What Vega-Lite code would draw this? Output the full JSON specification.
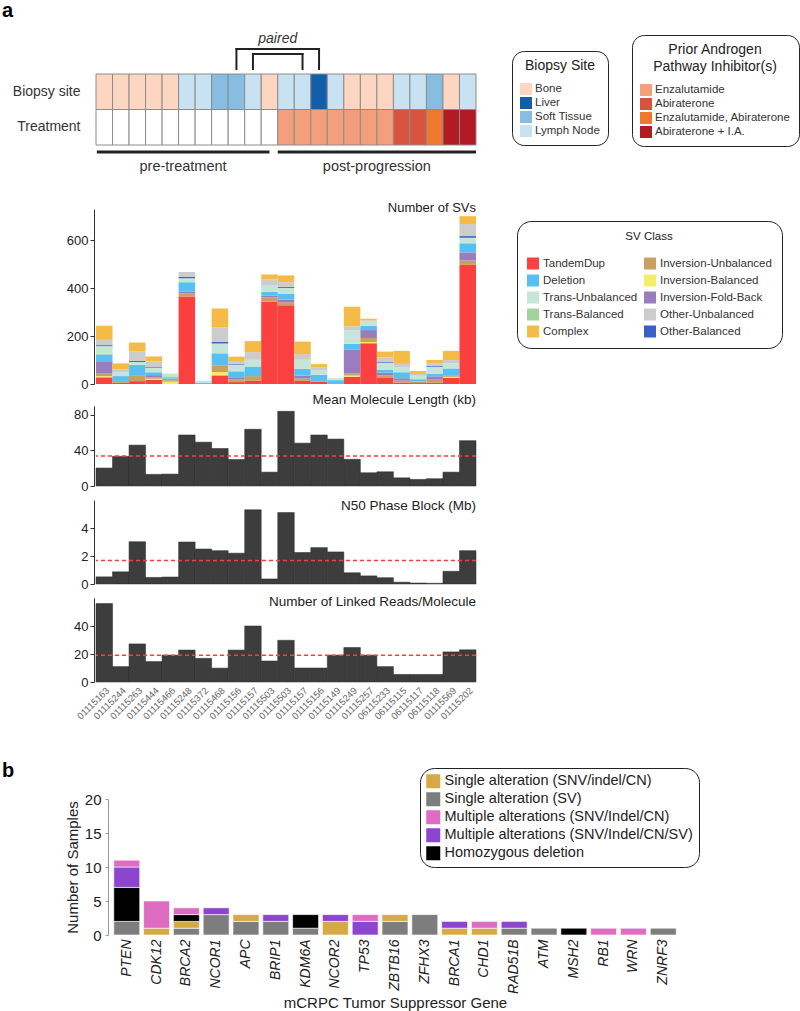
{
"$schema":"https://vega.github.io/schema/vega-lite/v6.json",
"padding":{"left":2,"top":0,"right":0,"bottom":0},
"background":"white",
"config":{"font":"Liberation Sans","view":{"stroke":null},"axis":{"grid":false},"legend":{"symbolStrokeWidth":0,"symbolOpacity":1}},
"resolve":{"scale":{"color":"independent","fill":"independent","x":"independent","y":"independent"},"legend":{"color":"independent","fill":"independent"}},
"datasets":{
"meta":[
{"s":"01115163","row":"Biopsy site","v":"Bone"},{"s":"01115163","row":"Treatment","v":"None"},
{"s":"01115244","row":"Biopsy site","v":"Bone"},{"s":"01115244","row":"Treatment","v":"None"},
{"s":"01115263","row":"Biopsy site","v":"Bone"},{"s":"01115263","row":"Treatment","v":"None"},
{"s":"01115444","row":"Biopsy site","v":"Bone"},{"s":"01115444","row":"Treatment","v":"None"},
{"s":"01115466","row":"Biopsy site","v":"Bone"},{"s":"01115466","row":"Treatment","v":"None"},
{"s":"01115248","row":"Biopsy site","v":"Lymph Node"},{"s":"01115248","row":"Treatment","v":"None"},
{"s":"01115372","row":"Biopsy site","v":"Lymph Node"},{"s":"01115372","row":"Treatment","v":"None"},
{"s":"01115468","row":"Biopsy site","v":"Soft Tissue"},{"s":"01115468","row":"Treatment","v":"None"},
{"s":"01115156","row":"Biopsy site","v":"Soft Tissue"},{"s":"01115156","row":"Treatment","v":"None"},
{"s":"01115157","row":"Biopsy site","v":"Lymph Node"},{"s":"01115157","row":"Treatment","v":"None"},
{"s":"01115503","row":"Biopsy site","v":"Bone"},{"s":"01115503","row":"Treatment","v":"None"},
{"s":"01115503-2","row":"Biopsy site","v":"Lymph Node"},{"s":"01115503-2","row":"Treatment","v":"Enzalutamide"},
{"s":"01115157-2","row":"Biopsy site","v":"Lymph Node"},{"s":"01115157-2","row":"Treatment","v":"Enzalutamide"},
{"s":"01115156-2","row":"Biopsy site","v":"Liver"},{"s":"01115156-2","row":"Treatment","v":"Enzalutamide"},
{"s":"01115149","row":"Biopsy site","v":"Lymph Node"},{"s":"01115149","row":"Treatment","v":"Enzalutamide"},
{"s":"01115249","row":"Biopsy site","v":"Bone"},{"s":"01115249","row":"Treatment","v":"Enzalutamide"},
{"s":"01115257","row":"Biopsy site","v":"Bone"},{"s":"01115257","row":"Treatment","v":"Enzalutamide"},
{"s":"06115233","row":"Biopsy site","v":"Bone"},{"s":"06115233","row":"Treatment","v":"Enzalutamide"},
{"s":"06115115","row":"Biopsy site","v":"Lymph Node"},{"s":"06115115","row":"Treatment","v":"Abiraterone"},
{"s":"06115117","row":"Biopsy site","v":"Lymph Node"},{"s":"06115117","row":"Treatment","v":"Abiraterone"},
{"s":"06115118","row":"Biopsy site","v":"Soft Tissue"},{"s":"06115118","row":"Treatment","v":"Enzalutamide, Abiraterone"},
{"s":"01115569","row":"Biopsy site","v":"Bone"},{"s":"01115569","row":"Treatment","v":"Abiraterone + I.A."},
{"s":"01115202","row":"Biopsy site","v":"Lymph Node"},{"s":"01115202","row":"Treatment","v":"Abiraterone + I.A."}
],
"pairs":[{"a":"01115156","b":"01115156-2","kind":"outer"},{"a":"01115157","b":"01115157-2","kind":"inner"}],
"phases":[{"label":"pre-treatment","from":"01115163","to":"01115503","mid":"01115248"},{"label":"post-progression","from":"01115503-2","to":"01115202","mid":"01115257"}],
"notes":[{"label":"paired","at":"01115503-2"}],
"svclass":[{"c":"TandemDup","k":1},{"c":"Inversion-Balanced","k":2},{"c":"Inversion-Unbalanced","k":3},{"c":"Inversion-Fold-Back","k":4},{"c":"Deletion","k":5},{"c":"Trans-Balanced","k":6},{"c":"Trans-Unbalanced","k":7},{"c":"Other-Balanced","k":8},{"c":"Other-Unbalanced","k":9},{"c":"Complex","k":10}],
"gcat":[{"cat":"Single alteration (SV)","k":1},{"cat":"Single alteration (SNV/indel/CN)","k":2},{"cat":"Homozygous deletion","k":3},{"cat":"Multiple alterations (SNV/Indel/CN/SV)","k":4},{"cat":"Multiple alterations (SNV/Indel/CN)","k":5}],
"sv":[
{"s":"01115163","c":"TandemDup","n":28},{"s":"01115163","c":"Inversion-Balanced","n":5},{"s":"01115163","c":"Inversion-Unbalanced","n":10},{"s":"01115163","c":"Inversion-Fold-Back","n":52},{"s":"01115163","c":"Deletion","n":28},{"s":"01115163","c":"Trans-Balanced","n":3},{"s":"01115163","c":"Trans-Unbalanced","n":32},{"s":"01115163","c":"Other-Balanced","n":4},{"s":"01115163","c":"Other-Unbalanced","n":22},{"s":"01115163","c":"Complex","n":59},
{"s":"01115244","c":"TandemDup","n":5},{"s":"01115244","c":"Inversion-Unbalanced","n":8},{"s":"01115244","c":"Deletion","n":20},{"s":"01115244","c":"Trans-Unbalanced","n":15},{"s":"01115244","c":"Other-Unbalanced","n":14},{"s":"01115244","c":"Complex","n":24},
{"s":"01115263","c":"TandemDup","n":12},{"s":"01115263","c":"Inversion-Unbalanced","n":22},{"s":"01115263","c":"Deletion","n":46},{"s":"01115263","c":"Trans-Unbalanced","n":12},{"s":"01115263","c":"Other-Balanced","n":4},{"s":"01115263","c":"Other-Unbalanced","n":40},{"s":"01115263","c":"Complex","n":37},
{"s":"01115444","c":"TandemDup","n":18},{"s":"01115444","c":"Inversion-Balanced","n":4},{"s":"01115444","c":"Inversion-Unbalanced","n":5},{"s":"01115444","c":"Inversion-Fold-Back","n":10},{"s":"01115444","c":"Deletion","n":12},{"s":"01115444","c":"Trans-Unbalanced","n":18},{"s":"01115444","c":"Other-Balanced","n":3},{"s":"01115444","c":"Other-Unbalanced","n":25},{"s":"01115444","c":"Complex","n":20},
{"s":"01115466","c":"Inversion-Balanced","n":10},{"s":"01115466","c":"Inversion-Unbalanced","n":6},{"s":"01115466","c":"Deletion","n":8},{"s":"01115466","c":"Trans-Balanced","n":8},{"s":"01115466","c":"Trans-Unbalanced","n":12},
{"s":"01115248","c":"TandemDup","n":365},{"s":"01115248","c":"Inversion-Unbalanced","n":14},{"s":"01115248","c":"Inversion-Fold-Back","n":7},{"s":"01115248","c":"Deletion","n":38},{"s":"01115248","c":"Trans-Unbalanced","n":17},{"s":"01115248","c":"Other-Balanced","n":6},{"s":"01115248","c":"Other-Unbalanced","n":20},
{"s":"01115372","c":"Deletion","n":6},{"s":"01115372","c":"Trans-Unbalanced","n":8},
{"s":"01115468","c":"TandemDup","n":36},{"s":"01115468","c":"Inversion-Balanced","n":14},{"s":"01115468","c":"Inversion-Unbalanced","n":28},{"s":"01115468","c":"Deletion","n":50},{"s":"01115468","c":"Trans-Unbalanced","n":41},{"s":"01115468","c":"Other-Balanced","n":7},{"s":"01115468","c":"Other-Unbalanced","n":60},{"s":"01115468","c":"Complex","n":79},
{"s":"01115156","c":"TandemDup","n":8},{"s":"01115156","c":"Inversion-Unbalanced","n":12},{"s":"01115156","c":"Inversion-Fold-Back","n":8},{"s":"01115156","c":"Deletion","n":25},{"s":"01115156","c":"Trans-Unbalanced","n":28},{"s":"01115156","c":"Other-Balanced","n":3},{"s":"01115156","c":"Other-Unbalanced","n":12},{"s":"01115156","c":"Complex","n":18},
{"s":"01115157","c":"TandemDup","n":13},{"s":"01115157","c":"Inversion-Unbalanced","n":20},{"s":"01115157","c":"Deletion","n":40},{"s":"01115157","c":"Trans-Unbalanced","n":28},{"s":"01115157","c":"Other-Unbalanced","n":32},{"s":"01115157","c":"Complex","n":46},
{"s":"01115503","c":"TandemDup","n":343},{"s":"01115503","c":"Inversion-Unbalanced","n":18},{"s":"01115503","c":"Inversion-Fold-Back","n":7},{"s":"01115503","c":"Deletion","n":17},{"s":"01115503","c":"Trans-Unbalanced","n":28},{"s":"01115503","c":"Other-Unbalanced","n":23},{"s":"01115503","c":"Complex","n":21},
{"s":"01115503-2","c":"TandemDup","n":328},{"s":"01115503-2","c":"Inversion-Unbalanced","n":13},{"s":"01115503-2","c":"Inversion-Fold-Back","n":11},{"s":"01115503-2","c":"Deletion","n":24},{"s":"01115503-2","c":"Trans-Unbalanced","n":25},{"s":"01115503-2","c":"Other-Balanced","n":4},{"s":"01115503-2","c":"Other-Unbalanced","n":20},{"s":"01115503-2","c":"Complex","n":28},
{"s":"01115157-2","c":"TandemDup","n":13},{"s":"01115157-2","c":"Inversion-Unbalanced","n":10},{"s":"01115157-2","c":"Inversion-Fold-Back","n":12},{"s":"01115157-2","c":"Deletion","n":28},{"s":"01115157-2","c":"Trans-Unbalanced","n":38},{"s":"01115157-2","c":"Other-Unbalanced","n":24},{"s":"01115157-2","c":"Complex","n":52},
{"s":"01115156-2","c":"TandemDup","n":10},{"s":"01115156-2","c":"Deletion","n":28},{"s":"01115156-2","c":"Trans-Unbalanced","n":18},{"s":"01115156-2","c":"Other-Unbalanced","n":14},{"s":"01115156-2","c":"Complex","n":13},
{"s":"01115149","c":"Inversion-Unbalanced","n":4},{"s":"01115149","c":"Deletion","n":12},{"s":"01115149","c":"Trans-Unbalanced","n":8},
{"s":"01115249","c":"TandemDup","n":30},{"s":"01115249","c":"Inversion-Balanced","n":5},{"s":"01115249","c":"Inversion-Unbalanced","n":9},{"s":"01115249","c":"Inversion-Fold-Back","n":99},{"s":"01115249","c":"Deletion","n":25},{"s":"01115249","c":"Trans-Unbalanced","n":56},{"s":"01115249","c":"Other-Unbalanced","n":17},{"s":"01115249","c":"Complex","n":81},
{"s":"01115257","c":"TandemDup","n":170},{"s":"01115257","c":"Inversion-Balanced","n":5},{"s":"01115257","c":"Inversion-Unbalanced","n":17},{"s":"01115257","c":"Inversion-Fold-Back","n":33},{"s":"01115257","c":"Deletion","n":18},{"s":"01115257","c":"Trans-Unbalanced","n":18},{"s":"01115257","c":"Other-Unbalanced","n":5},{"s":"01115257","c":"Complex","n":6},
{"s":"06115233","c":"TandemDup","n":25},{"s":"06115233","c":"Inversion-Unbalanced","n":10},{"s":"06115233","c":"Inversion-Fold-Back","n":12},{"s":"06115233","c":"Deletion","n":12},{"s":"06115233","c":"Trans-Unbalanced","n":30},{"s":"06115233","c":"Other-Balanced","n":4},{"s":"06115233","c":"Other-Unbalanced","n":18},{"s":"06115233","c":"Complex","n":24},
{"s":"06115115","c":"TandemDup","n":6},{"s":"06115115","c":"Inversion-Unbalanced","n":8},{"s":"06115115","c":"Inversion-Fold-Back","n":10},{"s":"06115115","c":"Deletion","n":25},{"s":"06115115","c":"Trans-Unbalanced","n":20},{"s":"06115115","c":"Other-Unbalanced","n":15},{"s":"06115115","c":"Complex","n":54},
{"s":"06115117","c":"TandemDup","n":4},{"s":"06115117","c":"Inversion-Unbalanced","n":6},{"s":"06115117","c":"Deletion","n":10},{"s":"06115117","c":"Trans-Unbalanced","n":14},{"s":"06115117","c":"Other-Unbalanced","n":8},{"s":"06115117","c":"Complex","n":12},
{"s":"06115118","c":"TandemDup","n":6},{"s":"06115118","c":"Inversion-Unbalanced","n":12},{"s":"06115118","c":"Inversion-Fold-Back","n":14},{"s":"06115118","c":"Deletion","n":10},{"s":"06115118","c":"Trans-Unbalanced","n":30},{"s":"06115118","c":"Other-Balanced","n":3},{"s":"06115118","c":"Other-Unbalanced","n":12},{"s":"06115118","c":"Complex","n":13},
{"s":"01115569","c":"TandemDup","n":25},{"s":"01115569","c":"Inversion-Balanced","n":5},{"s":"01115569","c":"Inversion-Unbalanced","n":4},{"s":"01115569","c":"Deletion","n":31},{"s":"01115569","c":"Trans-Unbalanced","n":21},{"s":"01115569","c":"Other-Unbalanced","n":14},{"s":"01115569","c":"Complex","n":38},
{"s":"01115202","c":"TandemDup","n":497},{"s":"01115202","c":"Inversion-Unbalanced","n":18},{"s":"01115202","c":"Inversion-Fold-Back","n":34},{"s":"01115202","c":"Deletion","n":38},{"s":"01115202","c":"Trans-Unbalanced","n":23},{"s":"01115202","c":"Other-Balanced","n":7},{"s":"01115202","c":"Other-Unbalanced","n":50},{"s":"01115202","c":"Complex","n":33}
],
"metrics":[
{"s":"01115163","mml":20.2,"n50":0.51,"lr":56},
{"s":"01115244","mml":33.3,"n50":0.87,"lr":11},
{"s":"01115263","mml":46,"n50":3.02,"lr":27.2},
{"s":"01115444","mml":13.1,"n50":0.47,"lr":14.6},
{"s":"01115466","mml":13.4,"n50":0.5,"lr":19.2},
{"s":"01115248","mml":57.4,"n50":3.0,"lr":22.8},
{"s":"01115372","mml":49.3,"n50":2.5,"lr":16.9},
{"s":"01115468","mml":42.2,"n50":2.38,"lr":9.9},
{"s":"01115156","mml":29.8,"n50":2.2,"lr":22.8},
{"s":"01115157","mml":63.8,"n50":5.3,"lr":40},
{"s":"01115503","mml":15.6,"n50":0.36,"lr":15},
{"s":"01115503-2","mml":84,"n50":5.1,"lr":29.8},
{"s":"01115157-2","mml":48.2,"n50":2.25,"lr":10},
{"s":"01115156-2","mml":57.4,"n50":2.6,"lr":10},
{"s":"01115149","mml":52.8,"n50":2.29,"lr":19.2},
{"s":"01115249","mml":30,"n50":0.8,"lr":24.6},
{"s":"01115257","mml":14.9,"n50":0.58,"lr":19.2},
{"s":"06115233","mml":16,"n50":0.45,"lr":11},
{"s":"06115115","mml":9.2,"n50":0.13,"lr":5.4},
{"s":"06115117","mml":7.4,"n50":0.07,"lr":5.4},
{"s":"06115118","mml":8.2,"n50":0.05,"lr":5.4},
{"s":"01115569","mml":15.6,"n50":0.91,"lr":21.5},
{"s":"01115202","mml":51,"n50":2.38,"lr":23}
],
"genes":[
{"g":"PTEN","cat":"Single alteration (SV)","n":2},{"g":"PTEN","cat":"Homozygous deletion","n":5},{"g":"PTEN","cat":"Multiple alterations (SNV/Indel/CN/SV)","n":3},{"g":"PTEN","cat":"Multiple alterations (SNV/Indel/CN)","n":1},
{"g":"CDK12","cat":"Single alteration (SNV/indel/CN)","n":1},{"g":"CDK12","cat":"Multiple alterations (SNV/Indel/CN)","n":4},
{"g":"BRCA2","cat":"Single alteration (SV)","n":1},{"g":"BRCA2","cat":"Single alteration (SNV/indel/CN)","n":1},{"g":"BRCA2","cat":"Homozygous deletion","n":1},{"g":"BRCA2","cat":"Multiple alterations (SNV/Indel/CN)","n":1},
{"g":"NCOR1","cat":"Single alteration (SV)","n":3},{"g":"NCOR1","cat":"Multiple alterations (SNV/Indel/CN/SV)","n":1},
{"g":"APC","cat":"Single alteration (SV)","n":2},{"g":"APC","cat":"Single alteration (SNV/indel/CN)","n":1},
{"g":"BRIP1","cat":"Single alteration (SV)","n":2},{"g":"BRIP1","cat":"Multiple alterations (SNV/Indel/CN/SV)","n":1},
{"g":"KDM6A","cat":"Single alteration (SV)","n":1},{"g":"KDM6A","cat":"Homozygous deletion","n":2},
{"g":"NCOR2","cat":"Single alteration (SNV/indel/CN)","n":2},{"g":"NCOR2","cat":"Multiple alterations (SNV/Indel/CN/SV)","n":1},
{"g":"TP53","cat":"Multiple alterations (SNV/Indel/CN/SV)","n":2},{"g":"TP53","cat":"Multiple alterations (SNV/Indel/CN)","n":1},
{"g":"ZBTB16","cat":"Single alteration (SV)","n":2},{"g":"ZBTB16","cat":"Single alteration (SNV/indel/CN)","n":1},
{"g":"ZFHX3","cat":"Single alteration (SV)","n":3},
{"g":"BRCA1","cat":"Single alteration (SNV/indel/CN)","n":1},{"g":"BRCA1","cat":"Multiple alterations (SNV/Indel/CN/SV)","n":1},
{"g":"CHD1","cat":"Single alteration (SNV/indel/CN)","n":1},{"g":"CHD1","cat":"Multiple alterations (SNV/Indel/CN)","n":1},
{"g":"RAD51B","cat":"Single alteration (SV)","n":1},{"g":"RAD51B","cat":"Multiple alterations (SNV/Indel/CN/SV)","n":1},
{"g":"ATM","cat":"Single alteration (SV)","n":1},
{"g":"MSH2","cat":"Homozygous deletion","n":1},
{"g":"RB1","cat":"Multiple alterations (SNV/Indel/CN)","n":1},
{"g":"WRN","cat":"Multiple alterations (SNV/Indel/CN)","n":1},
{"g":"ZNRF3","cat":"Single alteration (SV)","n":1}
]
},
"spacing":14,
"bounds":"flush",
"vconcat":[
{
"width":380,"height":161,
"title":{"text":"a","anchor":"start","frame":"group","dx":-94,"offset":1,"fontSize":20,"fontWeight":"bold","color":"#000","baseline":"middle"},
"layer":[
{"data":{"name":"meta"},"transform":[{"filter":"datum.row === 'Biopsy site'"}],
"mark":{"type":"rect","stroke":"#8c8c8c","strokeWidth":1},
"encoding":{
"x":{"field":"s","type":"nominal","scale":{"domain":["01115163","01115244","01115263","01115444","01115466","01115248","01115372","01115468","01115156","01115157","01115503","01115503-2","01115157-2","01115156-2","01115149","01115249","01115257","06115233","06115115","06115117","06115118","01115569","01115202"],"paddingInner":0,"paddingOuter":0},"axis":null},
"y":{"field":"row","type":"nominal","scale":{"domain":["Biopsy site","Treatment"],"paddingInner":0,"paddingOuter":0,"range":[40,111]},"axis":{"title":null,"domain":false,"ticks":false,"labelPadding":16,"labelFontSize":14,"labelColor":"#333"}},
"color":{"field":"v","type":"nominal","scale":{"domain":["Bone","Liver","Soft Tissue","Lymph Node"],"range":["#fdd6c1","#115eab","#87bde0","#c9e2f2"]},
"legend":{"orient":"none","legendX":416,"legendY":17,"title":"Biopsy Site","titleFontSize":14,"titleFontWeight":"normal","titleColor":"#222","titleAnchor":"middle","titlePadding":10,"labelFontSize":11.5,"labelColor":"#333","labelOffset":3,"symbolType":"square","symbolSize":144,"rowPadding":2,"padding":8,"strokeColor":"#222","cornerRadius":12}}
}},
{"data":{"name":"meta"},"transform":[{"filter":"datum.row === 'Treatment'"}],
"mark":{"type":"rect","stroke":"#8c8c8c","strokeWidth":1},
"encoding":{
"x":{"field":"s","type":"nominal","scale":{"domain":["01115163","01115244","01115263","01115444","01115466","01115248","01115372","01115468","01115156","01115157","01115503","01115503-2","01115157-2","01115156-2","01115149","01115249","01115257","06115233","06115115","06115117","06115118","01115569","01115202"],"paddingInner":0,"paddingOuter":0},"axis":null},
"y":{"field":"row","type":"nominal","axis":{"title":null,"domain":false,"ticks":false,"labelPadding":16,"labelFontSize":14,"labelColor":"#333"}},
"fill":{"field":"v","type":"nominal","scale":{"domain":["None","Enzalutamide","Abiraterone","Enzalutamide, Abiraterone","Abiraterone + I.A."],"range":["#ffffff","#f39f7b","#d8543f","#ef782f","#b21a24"]},
"legend":{"orient":"none","legendX":536,"legendY":1,"values":["Enzalutamide","Abiraterone","Enzalutamide, Abiraterone","Abiraterone + I.A."],"title":["Prior Androgen","Pathway Inhibitor(s)"],"titleLineHeight":17,"titleFontSize":14,"titleFontWeight":"normal","titleColor":"#222","titleAnchor":"middle","titlePadding":10,"labelFontSize":11.5,"labelColor":"#333","labelOffset":3,"labelLimit":300,"symbolType":"square","symbolSize":144,"rowPadding":2,"padding":8,"strokeColor":"#222","cornerRadius":12}}
}},
{"data":{"name":"pairs"},"transform":[{"filter":"datum.kind === 'outer'"}],
"mark":{"type":"rule","stroke":"#222","strokeWidth":2,"strokeCap":"square"},
"encoding":{
"x":{"field":"a","type":"nominal","bandPosition":0.5,"scale":{"domain":["01115163","01115244","01115263","01115444","01115466","01115248","01115372","01115468","01115156","01115157","01115503","01115503-2","01115157-2","01115156-2","01115149","01115249","01115257","06115233","06115115","06115117","06115118","01115569","01115202"],"paddingInner":0,"paddingOuter":0},"axis":null},
"x2":{"field":"b","bandPosition":0.5},
"y":{"datum":"Biopsy site","type":"nominal","bandPosition":-0.704}
}},
{"data":{"name":"pairs"},"transform":[{"filter":"datum.kind === 'outer'"},{"fold":["a","b"],"as":["end","smp"]}],
"mark":{"type":"rule","stroke":"#222","strokeWidth":2,"strokeCap":"square"},
"encoding":{
"x":{"field":"smp","type":"nominal","bandPosition":0.5,"scale":{"domain":["01115163","01115244","01115263","01115444","01115466","01115248","01115372","01115468","01115156","01115157","01115503","01115503-2","01115157-2","01115156-2","01115149","01115249","01115257","06115233","06115115","06115117","06115118","01115569","01115202"],"paddingInner":0,"paddingOuter":0},"axis":null},
"y":{"datum":"Biopsy site","type":"nominal","bandPosition":-0.704},
"y2":{"datum":"Biopsy site","bandPosition":-0.141}
}},
{"data":{"name":"pairs"},"transform":[{"filter":"datum.kind === 'inner'"}],
"mark":{"type":"rule","stroke":"#222","strokeWidth":2,"strokeCap":"square"},
"encoding":{
"x":{"field":"a","type":"nominal","bandPosition":0.5,"scale":{"domain":["01115163","01115244","01115263","01115444","01115466","01115248","01115372","01115468","01115156","01115157","01115503","01115503-2","01115157-2","01115156-2","01115149","01115249","01115257","06115233","06115115","06115117","06115118","01115569","01115202"],"paddingInner":0,"paddingOuter":0},"axis":null},
"x2":{"field":"b","bandPosition":0.5},
"y":{"datum":"Biopsy site","type":"nominal","bandPosition":-0.563}
}},
{"data":{"name":"pairs"},"transform":[{"filter":"datum.kind === 'inner'"},{"fold":["a","b"],"as":["end","smp"]}],
"mark":{"type":"rule","stroke":"#222","strokeWidth":2,"strokeCap":"square"},
"encoding":{
"x":{"field":"smp","type":"nominal","bandPosition":0.5,"scale":{"domain":["01115163","01115244","01115263","01115444","01115466","01115248","01115372","01115468","01115156","01115157","01115503","01115503-2","01115157-2","01115156-2","01115149","01115249","01115257","06115233","06115115","06115117","06115118","01115569","01115202"],"paddingInner":0,"paddingOuter":0},"axis":null},
"y":{"datum":"Biopsy site","type":"nominal","bandPosition":-0.563},
"y2":{"datum":"Biopsy site","bandPosition":-0.141}
}},
{"data":{"name":"notes"},
"mark":{"type":"text","fontSize":14,"fontStyle":"italic","color":"#333","baseline":"middle","align":"center"},
"encoding":{
"x":{"field":"at","type":"nominal","bandPosition":0,"scale":{"domain":["01115163","01115244","01115263","01115444","01115466","01115248","01115372","01115468","01115156","01115157","01115503","01115503-2","01115157-2","01115156-2","01115149","01115249","01115257","06115233","06115115","06115117","06115118","01115569","01115202"],"paddingInner":0,"paddingOuter":0},"axis":null},
"y":{"datum":"Biopsy site","type":"nominal","bandPosition":-0.986},
"text":{"field":"label","type":"nominal"}
}},
{"data":{"name":"phases"},"transform":[{"filter":"datum.label === 'pre-treatment'"}],
"mark":{"type":"rule","stroke":"#222","strokeWidth":3},
"encoding":{
"x":{"field":"from","type":"nominal","bandPosition":0.05,"scale":{"domain":["01115163","01115244","01115263","01115444","01115466","01115248","01115372","01115468","01115156","01115157","01115503","01115503-2","01115157-2","01115156-2","01115149","01115249","01115257","06115233","06115115","06115117","06115118","01115569","01115202"],"paddingInner":0,"paddingOuter":0},"axis":null},
"x2":{"field":"to","bandPosition":0.5},
"y":{"datum":"Treatment","type":"nominal","bandPosition":1.197}
}},
{"data":{"name":"phases"},"transform":[{"filter":"datum.label === 'post-progression'"}],
"mark":{"type":"rule","stroke":"#222","strokeWidth":3},
"encoding":{
"x":{"field":"from","type":"nominal","bandPosition":0,"scale":{"domain":["01115163","01115244","01115263","01115444","01115466","01115248","01115372","01115468","01115156","01115157","01115503","01115503-2","01115157-2","01115156-2","01115149","01115249","01115257","06115233","06115115","06115117","06115118","01115569","01115202"],"paddingInner":0,"paddingOuter":0},"axis":null},
"x2":{"field":"to","bandPosition":1},
"y":{"datum":"Treatment","type":"nominal","bandPosition":1.197}
}},
{"data":{"name":"phases"},"transform":[{"filter":"datum.label === 'pre-treatment'"}],
"mark":{"type":"text","fontSize":14.5,"color":"#333","baseline":"middle","align":"center"},
"encoding":{
"x":{"field":"mid","type":"nominal","bandPosition":0.27,"scale":{"domain":["01115163","01115244","01115263","01115444","01115466","01115248","01115372","01115468","01115156","01115157","01115503","01115503-2","01115157-2","01115156-2","01115149","01115249","01115257","06115233","06115115","06115117","06115118","01115569","01115202"],"paddingInner":0,"paddingOuter":0},"axis":null},
"y":{"datum":"Treatment","type":"nominal","bandPosition":1.62},
"text":{"field":"label","type":"nominal"}
}},
{"data":{"name":"phases"},"transform":[{"filter":"datum.label === 'post-progression'"}],
"mark":{"type":"text","fontSize":14.5,"color":"#333","baseline":"middle","align":"center"},
"encoding":{
"x":{"field":"mid","type":"nominal","bandPosition":1,"scale":{"domain":["01115163","01115244","01115263","01115444","01115466","01115248","01115372","01115468","01115156","01115157","01115503","01115503-2","01115157-2","01115156-2","01115149","01115249","01115257","06115233","06115115","06115117","06115118","01115569","01115202"],"paddingInner":0,"paddingOuter":0},"axis":null},
"y":{"datum":"Treatment","type":"nominal","bandPosition":1.62},
"text":{"field":"label","type":"nominal"}
}}
]
},
{
"width":380,"height":175,
"data":{"name":"sv"},
"transform":[{"lookup":"c","from":{"data":{"name":"svclass"},"key":"c","fields":["k"]}}],
"title":{"text":"Number of SVs","anchor":"end","frame":"group","fontSize":13,"fontWeight":"normal","color":"#222","baseline":"middle","offset":-12},
"mark":{"type":"bar"},
"encoding":{
"x":{"field":"s","type":"nominal","scale":{"domain":["01115163","01115244","01115263","01115444","01115466","01115248","01115372","01115468","01115156","01115157","01115503","01115503-2","01115157-2","01115156-2","01115149","01115249","01115257","06115233","06115115","06115117","06115118","01115569","01115202"],"paddingInner":0,"paddingOuter":0},"axis":null},
"y":{"field":"n","type":"quantitative","stack":"zero","scale":{"domain":[0,730]},"axis":{"title":null,"values":[0,200,400,600],"offset":2,"domainColor":"#333","tickColor":"#333","tickSize":4,"labelFontSize":13,"labelColor":"#222","labelPadding":2}},
"order":{"field":"k","type":"quantitative","sort":"ascending"},
"color":{"field":"c","type":"nominal",
"scale":{"domain":["TandemDup","Inversion-Balanced","Inversion-Unbalanced","Inversion-Fold-Back","Deletion","Trans-Balanced","Trans-Unbalanced","Other-Balanced","Other-Unbalanced","Complex"],"range":["#fb4040","#f5ec6a","#c9a062","#9a7dbf","#56c0f2","#a4d39a","#c5e5d9","#3a60c8","#cccccc","#f4bb47"]},
"legend":{"orient":"none","legendX":421,"legendY":12,"columns":2,"values":["TandemDup","Deletion","Trans-Unbalanced","Trans-Balanced","Complex","Inversion-Unbalanced","Inversion-Balanced","Inversion-Fold-Back","Other-Unbalanced","Other-Balanced"],"title":"SV Class","titleFontSize":11.5,"titleFontWeight":"normal","titleColor":"#222","titleAnchor":"middle","titlePadding":15,"labelFontSize":11.5,"labelColor":"#333","labelOffset":4,"symbolType":"square","symbolSize":144,"rowPadding":5,"columnPadding":6,"padding":10,"strokeColor":"#222","cornerRadius":14}}
}
},
{
"width":380,"height":88,
"data":{"name":"metrics"},
"title":{"text":"Mean Molecule Length (kb)","anchor":"end","frame":"group","fontSize":13.5,"fontWeight":"normal","color":"#222","baseline":"middle","offset":-15},
"layer":[
{"mark":{"type":"bar","fill":"#3d3d3d","stroke":"#2a2a2a","strokeWidth":0.5},
"encoding":{
"x":{"field":"s","type":"nominal","scale":{"domain":["01115163","01115244","01115263","01115444","01115466","01115248","01115372","01115468","01115156","01115157","01115503","01115503-2","01115157-2","01115156-2","01115149","01115249","01115257","06115233","06115115","06115117","06115118","01115569","01115202"],"paddingInner":0,"paddingOuter":0},"axis":null},
"y":{"field":"mml","type":"quantitative","scale":{"domain":[0,85],"range":[88,8]},"axis":{"title":null,"values":[0,20,40,60,80],"offset":2,"domainColor":"#333","tickColor":"#333","tickSize":4,"labelFontSize":13,"labelColor":"#222","labelPadding":2}}
}},
{"mark":{"type":"rule","stroke":"#ff3b3b","strokeDash":[4,3],"strokeWidth":1.5},
"encoding":{"y":{"aggregate":"mean","field":"mml","type":"quantitative"}}}
]
},
{
"width":380,"height":84,
"data":{"name":"metrics"},
"title":{"text":"N50 Phase Block (Mb)","anchor":"end","frame":"group","fontSize":13.5,"fontWeight":"normal","color":"#222","baseline":"middle","offset":-19},
"layer":[
{"mark":{"type":"bar","fill":"#3d3d3d","stroke":"#2a2a2a","strokeWidth":0.5},
"encoding":{
"x":{"field":"s","type":"nominal","scale":{"domain":["01115163","01115244","01115263","01115444","01115466","01115248","01115372","01115468","01115156","01115157","01115503","01115503-2","01115157-2","01115156-2","01115149","01115249","01115257","06115233","06115115","06115117","06115118","01115569","01115202"],"paddingInner":0,"paddingOuter":0},"axis":null},
"y":{"field":"n50","type":"quantitative","scale":{"domain":[0,5.6]},"axis":{"title":null,"values":[0,2,4],"offset":2,"domainColor":"#333","tickColor":"#333","tickSize":4,"labelFontSize":13,"labelColor":"#222","labelPadding":2}}
}},
{"mark":{"type":"rule","stroke":"#ff3b3b","strokeDash":[4,3],"strokeWidth":1.5},
"encoding":{"y":{"aggregate":"mean","field":"n50","type":"quantitative"}}}
]
},
{
"width":380,"height":84,
"data":{"name":"metrics"},
"title":{"text":"Number of Linked Reads/Molecule","anchor":"end","frame":"group","fontSize":13.5,"fontWeight":"normal","color":"#222","baseline":"middle","offset":-17},
"layer":[
{"mark":{"type":"bar","fill":"#3d3d3d","stroke":"#2a2a2a","strokeWidth":0.5},
"encoding":{
"x":{"field":"s","type":"nominal","scale":{"domain":["01115163","01115244","01115263","01115444","01115466","01115248","01115372","01115468","01115156","01115157","01115503","01115503-2","01115157-2","01115156-2","01115149","01115249","01115257","06115233","06115115","06115117","06115118","01115569","01115202"],"paddingInner":0,"paddingOuter":0},"axis":{"title":null,"labelAngle":-45,"labelFontSize":9.5,"labelColor":"#666","ticks":false,"domain":false,"labelPadding":3,"labelExpr":"split(datum.label, '-')[0]"}},
"y":{"field":"lr","type":"quantitative","scale":{"domain":[0,59]},"axis":{"title":null,"values":[0,20,40],"offset":2,"domainColor":"#333","tickColor":"#333","tickSize":4,"labelFontSize":13,"labelColor":"#222","labelPadding":2}}
}},
{"mark":{"type":"rule","stroke":"#ff3b3b","strokeDash":[4,3],"strokeWidth":1.5},
"encoding":{"y":{"aggregate":"mean","field":"lr","type":"quantitative"}}}
]
},
{
"width":598,"height":239,
"data":{"name":"genes"},
"transform":[{"lookup":"cat","from":{"data":{"name":"gcat"},"key":"cat","fields":["k"]}}],
"title":{"text":"b","anchor":"start","frame":"group","dx":-94,"offset":-95,"fontSize":20,"fontWeight":"bold","color":"#000","baseline":"middle"},
"mark":{"type":"bar","stroke":"#ffffff","strokeWidth":0.6},
"encoding":{
"x":{"field":"g","type":"nominal","scale":{"domain":["PTEN","CDK12","BRCA2","NCOR1","APC","BRIP1","KDM6A","NCOR2","TP53","ZBTB16","ZFHX3","BRCA1","CHD1","RAD51B","ATM","MSH2","RB1","WRN","ZNRF3"],"paddingInner":0.13,"paddingOuter":0.597},
"axis":{"title":"mCRPC Tumor Suppressor Gene","labelAngle":-90,"labelFontStyle":"italic","labelFontSize":14,"labelColor":"#222","ticks":false,"domain":false,"labelPadding":4,"titleFontSize":15,"titleFontWeight":"normal","titleColor":"#222","titlePadding":2}},
"y":{"field":"n","type":"quantitative","stack":"zero","scale":{"domain":[0,20],"range":[239,103]},
"axis":{"title":"Number of Samples","values":[0,5,10,15,20],"offset":-12,"domainColor":"#999","tickColor":"#999","tickSize":3,"labelFontSize":15,"labelColor":"#222","labelPadding":4,"titleFontSize":15,"titleFontWeight":"normal","titleColor":"#222","titlePadding":4}},
"order":{"field":"k","type":"quantitative","sort":"ascending"},
"color":{"field":"cat","type":"nominal",
"scale":{"domain":["Single alteration (SV)","Single alteration (SNV/indel/CN)","Homozygous deletion","Multiple alterations (SNV/Indel/CN/SV)","Multiple alterations (SNV/Indel/CN)"],"range":["#7d7d7d","#d6a945","#000000","#8c45cf","#dd6cc2"]},
"legend":{"orient":"none","legendX":324,"legendY":72,"title":null,"values":["Single alteration (SNV/indel/CN)","Single alteration (SV)","Multiple alterations (SNV/Indel/CN)","Multiple alterations (SNV/Indel/CN/SV)","Homozygous deletion"],"labelFontSize":14.5,"labelColor":"#222","labelOffset":4,"labelLimit":400,"symbolType":"square","symbolSize":196,"rowPadding":2,"padding":6,"strokeColor":"#222","cornerRadius":14}}
}
}
]
}
